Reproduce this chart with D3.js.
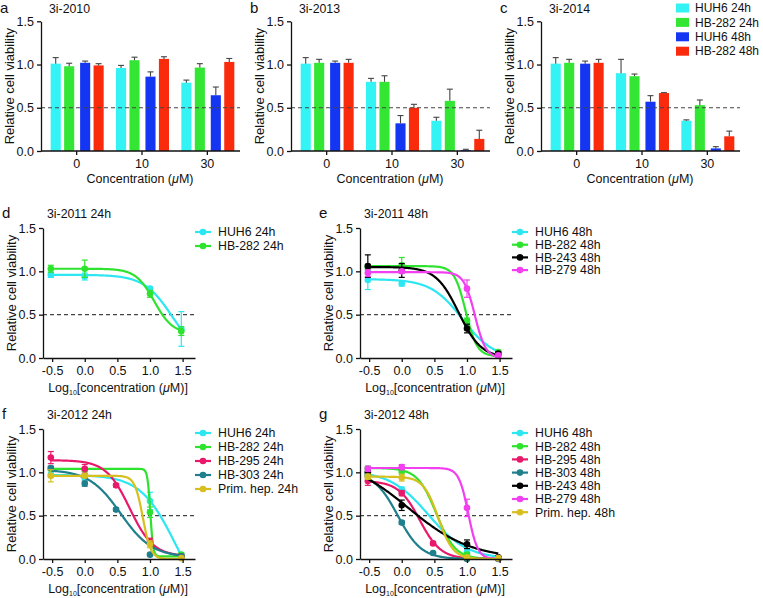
<!DOCTYPE html>
<html>
<head>
<meta charset="utf-8">
<script src="https://cdn.jsdelivr.net/npm/d3@7"></script>
<style>
  html, body { margin: 0; padding: 0; background: #fff; }
  svg { display: block; font-family: "Liberation Sans", Arial, sans-serif; }
</style>
</head>
<body>
<div id="chart"></div>
<script>
// ---- bar panels (a-c): values per concentration group, series in legend order
const barGroups = ['0', '10', '30'];
const barSeries = ['HUH6 24h', 'HB-282 24h', 'HUH6 48h', 'HB-282 48h'];

const mean2010 = [[1.01, 0.98, 1.02, 0.99], [0.96, 1.05, 0.86, 1.065], [0.79, 0.965, 0.645, 1.03]];
const sd2010 = [[0.07, 0.035, 0.02, 0.02], [0.03, 0.035, 0.055, 0.025], [0.03, 0.045, 0.095, 0.04]];
const mean2013 = [[1.01, 1.02, 1.02, 1.02], [0.80, 0.80, 0.32, 0.50], [0.35, 0.58, 0.01, 0.14]];
const sd2013 = [[0.07, 0.04, 0.02, 0.04], [0.04, 0.07, 0.09, 0.04], [0.04, 0.135, 0.01, 0.10]];
const mean2014 = [[1.01, 1.02, 1.01, 1.02], [0.90, 0.865, 0.57, 0.67], [0.35, 0.53, 0.03, 0.17]];
const sd2014 = [[0.07, 0.04, 0.03, 0.04], [0.16, 0.025, 0.07, 0.005], [0.01, 0.06, 0.02, 0.06]];

// ---- dose-response panels (d-g): x = log10 of 0.3, 1, 3, 10, 30 uM
const logConc = [-0.52, 0, 0.48, 1, 1.48];

const series2011_24h = ['HUH6 24h', 'HB-282 24h'];
const viab2011_24h = { 'HUH6 24h': [0.96, 0.94, null, 0.80, 0.335], 'HB-282 24h': [1.03, 1.03, null, 0.74, 0.31] };
const sd2011_24h = { 'HUH6 24h': [0.03, 0.04, null, 0.02, 0.20], 'HB-282 24h': [0.04, 0.10, null, 0.04, 0.05] };
// fitted curve: [top, bottom, logIC50, hill]
const fit2011_24h = { 'HUH6 24h': [0.96, 0, 1.34, 2.0], 'HB-282 24h': [1.03, 0.28, 1.065, 3.06] };

const series2011_48h = ['HUH6 48h', 'HB-282 48h', 'HB-243 48h', 'HB-279 48h'];
const viab2011_48h = {
  'HUH6 48h': [0.90, 0.86, null, 0.40, 0.05], 'HB-282 48h': [1.05, 1.07, null, 0.43, 0.07],
  'HB-243 48h': [1.06, 1.01, null, 0.34, 0.05], 'HB-279 48h': [0.98, 1.0, null, 0.80, 0.03],
};
const sd2011_48h = {
  'HUH6 48h': [0.11, 0.03, null, 0.03, 0.02], 'HB-282 48h': [0.03, 0.09, null, 0.03, 0.02],
  'HB-243 48h': [0.13, 0.08, null, 0.05, 0.02], 'HB-279 48h': [0.04, 0.02, null, 0.10, 0.02],
};
const fit2011_48h = {
  'HUH6 48h': [0.91, -0.01, 0.93, 1.8], 'HB-282 48h': [1.06, 0.02, 0.98, 5],
  'HB-243 48h': [1.05, 0, 0.872, 2.5], 'HB-279 48h': [0.99, 0, 1.12, 5.2],
};

const series2012_24h = ['HUH6 24h', 'HB-282 24h', 'HB-295 24h', 'HB-303 24h', 'Prim. hep. 24h'];
const viab2012_24h = {
  'HUH6 24h': [0.97, 0.94, null, 0.67, 0.04], 'HB-282 24h': [1.04, 1.03, null, 0.54, 0.05],
  'HB-295 24h': [1.17, 1.04, 0.85, 0.20, 0.03], 'HB-303 24h': [1.05, 0.87, 0.57, 0.05, 0.03],
  'Prim. hep. 24h': [0.96, 0.96, null, 0.17, 0.01],
};
const sd2012_24h = {
  'HUH6 24h': [0.03, 0.02, null, 0.10, 0.02], 'HB-282 24h': [0.02, 0.02, null, 0.06, 0.02],
  'HB-295 24h': [0.07, 0.05, 0.02, 0.04, 0.02], 'HB-303 24h': [0.02, 0.03, 0.02, 0.01, 0.01],
  'Prim. hep. 24h': [0.07, 0.02, null, 0.04, 0.01],
};
const fit2012_24h = {
  'HUH6 24h': [0.97, -0.6, 1.382, 1.64], 'HB-282 24h': [1.04, 0.03, 1.005, 20],
  'HB-295 24h': [1.14, 0.03, 0.689, 2.39], 'HB-303 24h': [1.03, 0.02, 0.55, 1.8],
  'Prim. hep. 24h': [0.96, 0, 0.89, 7],
};

const series2012_48h = ['HUH6 48h', 'HB-282 48h', 'HB-295 48h', 'HB-303 48h', 'HB-243 48h', 'HB-279 48h', 'Prim. hep. 48h'];
const viab2012_48h = {
  'HUH6 48h': [0.97, 0.80, null, 0.08, 0.01], 'HB-282 48h': [1.04, 1.01, null, 0.05, 0.01],
  'HB-295 48h': [0.90, 0.76, 0.18, 0.01, 0.01], 'HB-303 48h': [0.97, 0.42, 0.07, 0.0, 0.0],
  'HB-243 48h': [1.0, 0.62, null, 0.17, 0.02], 'HB-279 48h': [1.04, 1.06, null, 0.59, 0.01],
  'Prim. hep. 48h': [0.95, 0.94, null, 0.02, 0.01],
};
const sd2012_48h = {
  'HUH6 48h': [0.04, 0.03, null, 0.02, 0.01], 'HB-282 48h': [0.03, 0.03, null, 0.02, 0.01],
  'HB-295 48h': [0.05, 0.03, 0.02, 0.01, 0.01], 'HB-303 48h': [0.03, 0.02, 0.01, 0.01, 0.01],
  'HB-243 48h': [0.05, 0.06, null, 0.05, 0.01], 'HB-279 48h': [0.03, 0.03, null, 0.10, 0.01],
  'Prim. hep. 48h': [0.03, 0.04, null, 0.01, 0.01],
};
const fit2012_48h = {
  'HUH6 48h': [1.02, 0, 0.41, 1.46], 'HB-282 48h': [1.05, 0, 0.53, 3],
  'HB-295 48h': [0.9, 0, 0.275, 2.67], 'HB-303 48h': [1.0, 0, -0.06, 2.4],
  'HB-243 48h': [1.18, 0, 0.1, 0.9], 'HB-279 48h': [1.05, 0, 1.02, 6],
  'Prim. hep. 48h': [0.95, 0, 0.56, 3.8],
};

const yTicks = [0, 0.5, 1, 1.5];
const xTicks = [-0.5, 0, 0.5, 1, 1.5];

// ---- styles
const barColors = ['#33f3f5', '#33e633', '#1436f2', '#fa2a0c'];
const lineColors = {
  'HUH6': '#2ce6f2', 'HB-282': '#2ee32e', 'HB-243': '#000000', 'HB-279': '#f23ff0',
  'HB-295': '#e8196b', 'HB-303': '#1f7f8c', 'Prim. hep.': '#d6bf1f',
};
const cellOf = (name) => name.replace(/ \d+h$/, '');
const AX_FONT = 12.5;

const width = 763;
const height = 598;
const svg = d3.select('#chart').append('svg').attr('width', width).attr('height', height);

function yAxis(g, y, x0, yTop, yBottom) {
  const ax = g.append('g').attr('transform', `translate(${x0},0)`)
    .call(d3.axisLeft(y).tickValues(yTicks).tickFormat((d) => d.toFixed(1)).tickSize(4).tickSizeOuter(0).tickPadding(3));
  ax.selectAll('text').attr('font-size', AX_FONT).attr('fill', '#111');
  ax.selectAll('line,path').attr('stroke', '#111').attr('stroke-width', 1.3);
  g.append('text').attr('transform', `translate(${x0 - 32},${(yTop + yBottom) / 2}) rotate(-90)`)
    .attr('text-anchor', 'middle').attr('dy', '0.35em').attr('font-size', 13).attr('fill', '#111')
    .text('Relative cell viability');
}

function header(g, x, y, label, title, labelX) {
  g.append('text').attr('x', labelX).attr('y', y).attr('font-size', 15).attr('fill', '#111').text(label);
  g.append('text').attr('x', x).attr('y', y).attr('font-size', 12.3).attr('fill', '#111').text(title);
}

function dashed(g, x1, x2, yPos) {
  g.append('line').attr('x1', x1).attr('x2', x2).attr('y1', yPos).attr('y2', yPos)
    .attr('stroke', '#444').attr('stroke-width', 1.2).attr('stroke-dasharray', '4,3');
}

function barPanel({ x0, label, title, mean, sd, legend }) {
  const g = svg.append('g');
  const y = d3.scaleLinear().domain([0, 1.5]).range([151, 21.3]);
  const x = d3.scaleBand().domain(barGroups).range([x0 + 3, x0 + 199]);
  const xt = d3.scaleBand().domain(['24h', '48h']).range([-26, 27]).paddingInner(0.2);
  const xc = d3.scaleBand().domain(['HUH6', 'HB-282']).range([0, xt.bandwidth()]).paddingInner(0.25);
  const barX = (gi, si) => x(barGroups[gi]) + x.bandwidth() / 2 + xt(si < 2 ? '24h' : '48h') + xc(si % 2 ? 'HB-282' : 'HUH6');

  header(g, x0 + 8, 13, label, title, x0 - 41);

  barGroups.forEach((grp, gi) => {
    barSeries.forEach((s, si) => {
      const bx = barX(gi, si);
      const v = mean[gi][si];
      g.append('rect').attr('x', bx).attr('y', y(v)).attr('width', xc.bandwidth())
        .attr('height', y(0) - y(v)).attr('fill', barColors[si]);
      const cx = bx + xc.bandwidth() / 2;
      const top = y(v + sd[gi][si]);
      g.append('line').attr('x1', cx).attr('x2', cx).attr('y1', y(v)).attr('y2', top)
        .attr('stroke', '#444').attr('stroke-width', 1.1);
      g.append('line').attr('x1', cx - 3).attr('x2', cx + 3).attr('y1', top).attr('y2', top)
        .attr('stroke', '#444').attr('stroke-width', 1.1);
    });
  });

  dashed(g, x0, x0 + 199, y(0.5));

  const ax = g.append('g').attr('transform', `translate(0,${y(0)})`)
    .call(d3.axisBottom(x).tickSize(4).tickSizeOuter(0).tickPadding(4));
  ax.select('.domain').remove();
  ax.selectAll('text').attr('font-size', AX_FONT).attr('fill', '#111');
  ax.selectAll('line').attr('stroke', '#111').attr('stroke-width', 1.3);
  g.append('line').attr('x1', x0).attr('x2', x0 + 199).attr('y1', y(0)).attr('y2', y(0))
    .attr('stroke', '#111').attr('stroke-width', 1.3);
  yAxis(g, y, x0, y(1.5), y(0));

  const xl = g.append('text').attr('x', x0 + 99).attr('y', 183).attr('text-anchor', 'middle')
    .attr('font-size', AX_FONT).attr('fill', '#111');
  xl.append('tspan').text('Concentration (');
  xl.append('tspan').attr('font-style', 'italic').text('μ');
  xl.append('tspan').text('M)');

  if (legend) {
    barSeries.forEach((s, i) => {
      const ly = 8 + i * 14.4;
      g.append('rect').attr('x', 676).attr('y', ly - 4.5).attr('width', 13).attr('height', 9).attr('fill', barColors[i]);
      g.append('text').attr('x', 695).attr('y', ly).attr('dy', '0.35em').attr('font-size', 12).attr('fill', '#111').text(s);
    });
  }
}

function fourPL(p, xv) {
  const [top, bottom, c, h] = p;
  return bottom + (top - bottom) / (1 + Math.pow(10, h * (xv - c)));
}

function linePanel({ x0, yBase, label, title, series, viab, sd, fit, legendStep }) {
  const g = svg.append('g');
  const y = d3.scaleLinear().domain([0, 1.5]).range([yBase, yBase - 130]);
  const x = d3.scaleLinear().domain([-0.64, 1.69]).range([x0, x0 + 152]);

  header(g, x0 + 4, yBase - 140, label, title, x0 - 41);
  dashed(g, x0, x0 + 152, y(0.5));

  const curveX = d3.range(logConc[0], logConc[logConc.length - 1] + 0.001, 0.01);
  const line = d3.line().x((d) => x(d[0])).y((d) => y(d[1]));

  series.forEach((s) => {
    const col = lineColors[cellOf(s)];
    g.append('path').datum(curveX.map((xv) => [xv, fourPL(fit[s], xv)]))
      .attr('d', line).attr('fill', 'none').attr('stroke', col).attr('stroke-width', 2.2);
    logConc.forEach((lc, i) => {
      const v = viab[s][i];
      if (v == null) return;
      const e = sd[s][i];
      const cx = x(lc);
      g.append('line').attr('x1', cx).attr('x2', cx).attr('y1', y(v - e)).attr('y2', y(v + e))
        .attr('stroke', col).attr('stroke-width', 1.2);
      [v - e, v + e].forEach((yv) => {
        g.append('line').attr('x1', cx - 3).attr('x2', cx + 3).attr('y1', y(yv)).attr('y2', y(yv))
          .attr('stroke', col).attr('stroke-width', 1.2);
      });
      g.append('circle').attr('cx', cx).attr('cy', y(v)).attr('r', 3.3).attr('fill', col);
    });
  });

  const ax = g.append('g').attr('transform', `translate(0,${yBase})`)
    .call(d3.axisBottom(x).tickValues(xTicks).tickFormat((d) => d.toFixed(1)).tickSize(4).tickSizeOuter(0).tickPadding(4));
  ax.selectAll('text').attr('font-size', AX_FONT).attr('fill', '#111');
  ax.selectAll('line,path').attr('stroke', '#111').attr('stroke-width', 1.3);
  yAxis(g, y, x0, y(1.5), y(0));

  const xl = g.append('text').attr('x', x0 + 75).attr('y', yBase + 34).attr('text-anchor', 'middle')
    .attr('font-size', AX_FONT).attr('fill', '#111');
  xl.append('tspan').text('Log');
  xl.append('tspan').attr('font-size', 7).attr('dy', 3).text('10');
  xl.append('tspan').attr('dy', -3).text('[concentration (');
  xl.append('tspan').attr('font-style', 'italic').text('μ');
  xl.append('tspan').text('M)]');

  // legend to the right of the plot
  const lx = x0 + 152;
  series.forEach((s, i) => {
    const col = lineColors[cellOf(s)];
    const ly = yBase - 126 + i * legendStep;
    g.append('line').attr('x1', lx).attr('x2', lx + 16).attr('y1', ly).attr('y2', ly)
      .attr('stroke', col).attr('stroke-width', 2.2);
    g.append('circle').attr('cx', lx + 8).attr('cy', ly).attr('r', 3.3).attr('fill', col);
    g.append('text').attr('x', lx + 23).attr('y', ly).attr('dy', '0.35em').attr('font-size', 12.3)
      .attr('fill', '#111').text(s);
  });
}

barPanel({ x0: 41, label: 'a', title: '3i-2010', mean: mean2010, sd: sd2010 });
barPanel({ x0: 291, label: 'b', title: '3i-2013', mean: mean2013, sd: sd2013 });
barPanel({ x0: 541, label: 'c', title: '3i-2014', mean: mean2014, sd: sd2014, legend: true });

linePanel({ x0: 43, yBase: 358, label: 'd', title: '3i-2011 24h', series: series2011_24h,
  viab: viab2011_24h, sd: sd2011_24h, fit: fit2011_24h, legendStep: 14 });
linePanel({ x0: 360, yBase: 358, label: 'e', title: '3i-2011 48h', series: series2011_48h,
  viab: viab2011_48h, sd: sd2011_48h, fit: fit2011_48h, legendStep: 12.7 });
linePanel({ x0: 43, yBase: 559, label: 'f', title: '3i-2012 24h', series: series2012_24h,
  viab: viab2012_24h, sd: sd2012_24h, fit: fit2012_24h, legendStep: 14 });
linePanel({ x0: 360, yBase: 559, label: 'g', title: '3i-2012 48h', series: series2012_48h,
  viab: viab2012_48h, sd: sd2012_48h, fit: fit2012_48h, legendStep: 13.2 });
</script>
</body>
</html>
